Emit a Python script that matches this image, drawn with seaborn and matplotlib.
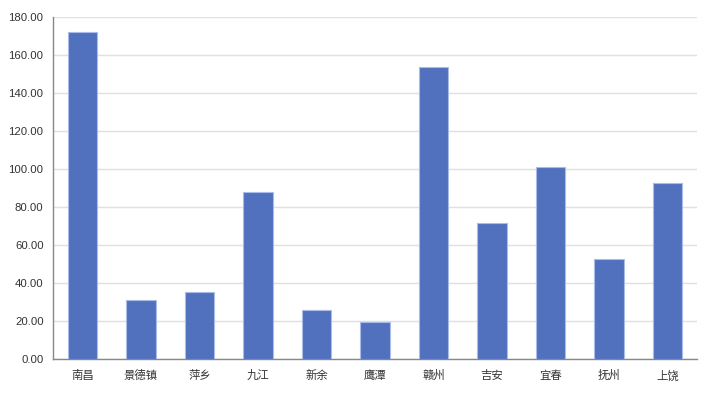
import pandas as pd
import matplotlib
matplotlib.use("Agg")
import matplotlib.pyplot as plt
import seaborn as sns

# data
cities = ['南昌', '景德镇', '萍乡', '九江', '新余', '鹰潭',
          '赣州', '吉安', '宜春', '抚州', '上饶']
values = [171.8, 31.0, 35.1, 87.8, 25.6, 19.5,
          153.4, 71.5, 100.8, 52.4, 92.7]
yticks = [0, 20, 40, 60, 80, 100, 120, 140, 160, 180]

df = pd.DataFrame({'city': cities, 'value': values})

sns.set_style('white')
plt.rcParams['font.family'] = ['Liberation Sans', 'Noto Sans CJK SC', 'DejaVu Sans']

fig = plt.figure(figsize=(7.08, 4.0), dpi=100)
ax = fig.add_axes([0.0753, 0.1025, 0.9087, 0.8555])

sns.barplot(data=df, x='city', y='value', color='#5171BE', saturation=1,
            width=0.5, edgecolor='#A9BBE6', linewidth=0.8, ax=ax, zorder=3)

ax.set_ylim(0, 180)
ax.set_yticks(yticks)
ax.set_yticklabels(['%.2f' % t for t in yticks])
ax.set_xlim(-0.5, len(cities) - 0.5)
ax.set_xlabel('')
ax.set_ylabel('')

ax.yaxis.grid(True, color='#E0E0E0', linewidth=1, zorder=0)
ax.xaxis.grid(False)
for s in ['top', 'right']:
    ax.spines[s].set_visible(False)
for s in ['left', 'bottom']:
    ax.spines[s].set_color('#888888')
    ax.spines[s].set_linewidth(1)

ax.tick_params(axis='both', which='both', length=4, width=1, color='#888888',
               labelsize=8.2, labelcolor='#333333', pad=3)
ax.tick_params(axis='x', pad=4)

fig.savefig('out.png', dpi=100)
